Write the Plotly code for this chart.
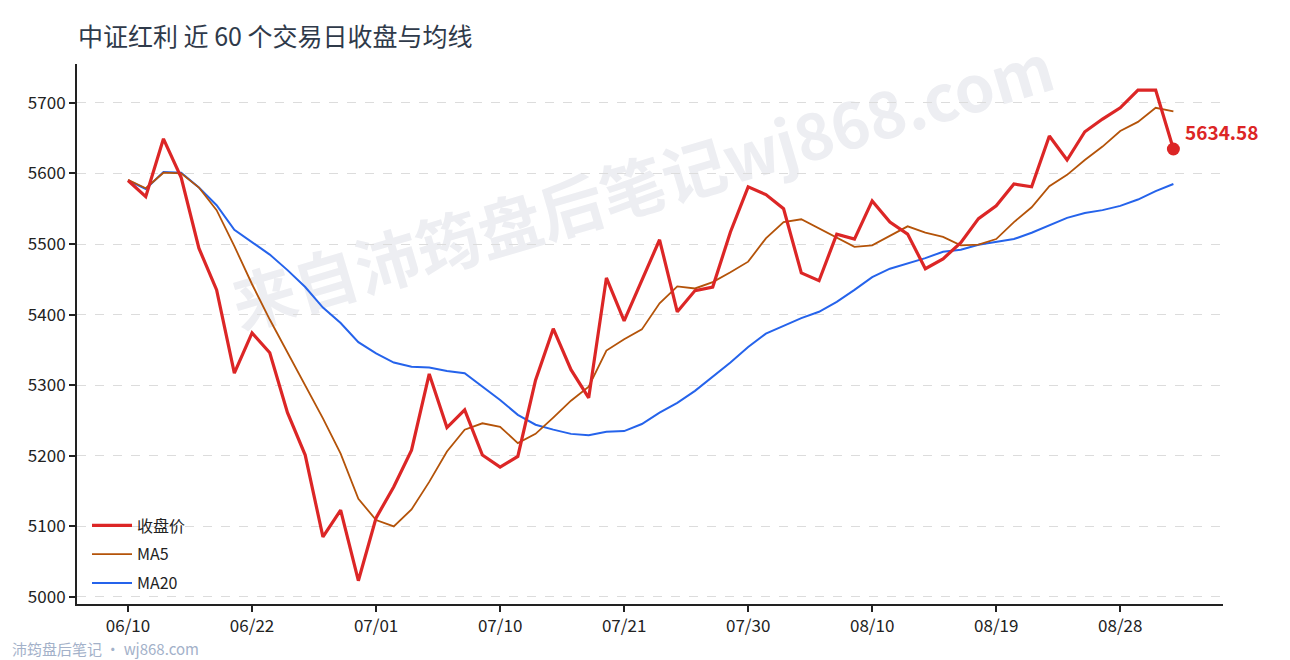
import plotly.graph_objects as go

# ---- data ----
tick_idx = [0, 7, 14, 21, 28, 35, 42, 49, 56]
tick_labels = ["06/10", "06/22", "07/01", "07/10", "07/21", "07/30", "08/10", "08/19", "08/28"]

close = [5590, 5567, 5649, 5594, 5494, 5435, 5317, 5374, 5346, 5261,
         5201, 5085, 5123, 5023, 5112, 5156, 5208, 5316, 5240, 5265,
         5201, 5184, 5199, 5307, 5380, 5322, 5282, 5452, 5391, 5449,
         5506, 5404, 5434, 5439, 5517, 5581, 5570, 5550, 5459, 5448,
         5514, 5507, 5561, 5531, 5514, 5465, 5479, 5502, 5536, 5554,
         5585, 5581, 5653, 5619, 5659, 5677, 5693, 5718, 5718, 5634.58]

ma5 = [5591, 5579, 5601, 5600, 5580, 5548, 5497, 5443, 5393, 5347,
       5300, 5253, 5203, 5139, 5109, 5100, 5124, 5163, 5206, 5237,
       5246, 5241, 5218, 5231, 5254, 5278, 5298, 5349, 5365, 5379,
       5416, 5440, 5437, 5446, 5460, 5475, 5508, 5531, 5535, 5522,
       5508, 5496, 5498, 5512, 5525, 5516, 5510, 5498, 5499, 5507,
       5531, 5552, 5582, 5598, 5619, 5638, 5660, 5673, 5693, 5688]

ma20 = [5590, 5578, 5602, 5601, 5580, 5555, 5520, 5503, 5485, 5463,
        5439, 5410, 5388, 5361, 5345, 5332, 5326, 5325, 5320, 5317,
        5298, 5279, 5258, 5244, 5237, 5231, 5229, 5234, 5235, 5245,
        5261, 5275, 5292, 5312, 5332, 5354, 5373, 5384, 5395, 5404,
        5418, 5435, 5453, 5465, 5472, 5480, 5489, 5492, 5499, 5503,
        5507, 5516, 5527, 5537, 5544, 5548, 5554, 5563, 5575, 5585]

idx = list(range(len(close)))
last_i = idx[-1]
last_v = close[-1]

FONT = "Noto Sans CJK SC, Noto Sans, sans-serif"
RED = "#dc2626"
ORANGE = "#b45309"
BLUE = "#2563eb"

W, H = 1282, 652  # page body has an 8px margin
ML, MR, MT, MB = 69, 67, 56, 56
PW, PH = W - ML - MR, H - MT - MB

fig = go.Figure()
fig.add_trace(go.Scatter(x=idx, y=ma20, mode="lines", name="MA20",
                         line=dict(color=BLUE, width=2), legendgroup="c", legendrank=3))
fig.add_trace(go.Scatter(x=idx, y=ma5, mode="lines", name="MA5",
                         line=dict(color=ORANGE, width=1.8), legendgroup="b", legendrank=2))
fig.add_trace(go.Scatter(x=idx, y=close, mode="lines", name="收盘价",
                         line=dict(color=RED, width=3.2), legendgroup="a", legendrank=1))
fig.add_trace(go.Scatter(x=[last_i], y=[last_v], mode="markers", showlegend=False,
                         marker=dict(color=RED, size=13)))

fig.add_annotation(x=last_i, y=last_v, text=f"<b>{last_v:.2f}</b>", showarrow=False,
                   xanchor="left", yanchor="middle", xshift=10, yshift=18,
                   font=dict(family=FONT, size=19, color=RED))

# watermark (below traces)
fig.add_shape(type="rect", xref="paper", yref="paper", x0=0.065, x1=0.925, y0=0.478, y1=1.048,
              line=dict(width=0), fillcolor="rgba(0,0,0,0)", layer="below",
              label=dict(text="<b>来自沛筠盘后笔记wj868.com</b>", textangle=-16.5,
                         textposition="middle center",
                         font=dict(family=FONT, size=64, color="#edeef2")))

# footer
fig.add_annotation(xref="paper", yref="paper", x=(2 - ML) / PW, y=-(640 - (H - MB)) / PH,
                   xanchor="left", yanchor="middle",
                   text="沛筠盘后笔记 · wj868.com", showarrow=False,
                   font=dict(family=FONT, size=15, color="#a3b1c9"))

fig.update_layout(
    width=W, height=H,
    margin=dict(l=ML, r=MR, t=MT, b=MB),
    paper_bgcolor="white", plot_bgcolor="white",
    title=dict(text="中证红利 近 60 个交易日收盘与均线", x=70 / W, xref="container", xanchor="left",
               y=1 - 29 / H, yref="container", yanchor="middle",
               font=dict(family=FONT, size=25, color="#2f3a4a")),
    font=dict(family=FONT, size=16, color="#222"),
    showlegend=True,
    legend=dict(x=10 / PW, y=0.0065, xanchor="left", yanchor="bottom", bgcolor="rgba(0,0,0,0)",
                traceorder="grouped", tracegroupgap=5, itemwidth=40,
                font=dict(family=FONT, size=16, color="#222")),
)
fig.update_xaxes(range=[-2.88, 61.8], tickmode="array", tickvals=tick_idx, ticktext=tick_labels,
                 showgrid=False, zeroline=False, showline=True, linecolor="#222", linewidth=2,
                 ticks="outside", ticklen=6, tickwidth=2, tickcolor="#222",
                 tickfont=dict(family=FONT, size=17, color="#222"))
fig.update_yaxes(range=[4990, 5755], tickvals=[5000, 5100, 5200, 5300, 5400, 5500, 5600, 5700],
                 showgrid=True, gridcolor="#dcdcdc", griddash="dash", gridwidth=1,
                 zeroline=False, showline=True, linecolor="#222", linewidth=2,
                 ticks="outside", ticklen=6, tickwidth=2, tickcolor="#222",
                 tickfont=dict(family=FONT, size=17, color="#222"))

fig.write_html("out.html")
